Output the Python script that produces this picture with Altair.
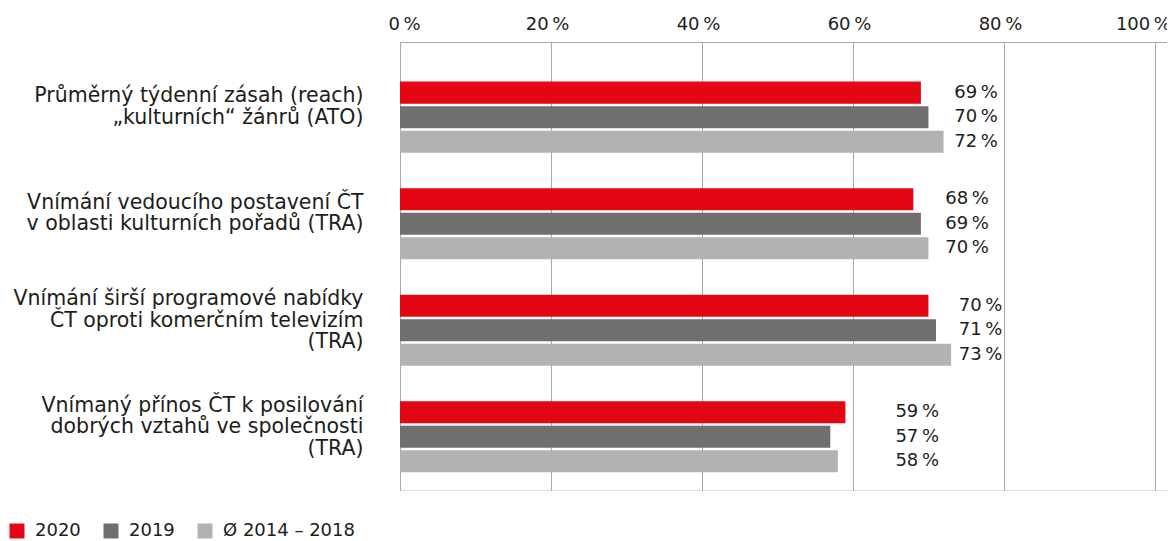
import altair as alt
import pandas as pd

categories = [
    "Průměrný týdenní zásah (reach)|„kulturních“ žánrů (ATO)",
    "Vnímání vedoucího postavení ČT|v oblasti kulturních pořadů (TRA)",
    "Vnímání širší programové nabídky|ČT oproti komerčním televizím|(TRA)",
    "Vnímaný přínos ČT k posilování|dobrých vztahů ve společnosti|(TRA)",
]
series = ["2020", "2019", "Ø 2014 – 2018"]
v2020 = [69, 68, 70, 59]
v2019 = [70, 69, 71, 57]
vavg = [72, 70, 73, 58]
colors = ["#E30613", "#6F6F6F", "#B2B2B2"]
ticks = [0, 20, 40, 60, 80, 100]

rows = []
for i, c in enumerate(categories):
    for s, vals in zip(series, [v2020, v2019, vavg]):
        rows.append({"cat": c, "series": s, "value": vals[i]})
df = pd.DataFrame(rows)

FONT = "DejaVu Sans"
FS = 18
TXT = "#1d1d1b"

xscale = alt.Scale(domain=[0, 101.6], nice=False, zero=True)
yscale = alt.Scale(paddingInner=0, paddingOuter=0.103, align=1)
yoff_scale = alt.Scale(paddingInner=0.1, paddingOuter=0.72, domain=series)

base = alt.Chart(df)

bars = base.mark_bar().encode(
    x=alt.X("value:Q", scale=xscale,
            axis=alt.Axis(orient="top", values=ticks, title=None,
                          labelExpr="datum.value + '\u2009%'",
                          labelFlush=False,
                          labelOffset={"condition": [
                              {"test": "datum.value == 0", "value": 4},
                              {"test": "datum.value == 100", "value": -12}],
                              "value": -4},
                          labelFontSize=FS, labelColor=TXT, labelFont=FONT,
                          labelPadding=9, ticks=False, grid=True,
                          gridColor="#A8A8A8", gridWidth=1,
                          domainColor="#A8A8A8", domainWidth=1)),
    y=alt.Y("cat:N", sort=categories, scale=yscale,
            axis=alt.Axis(title=None, ticks=False, domain=False,
                          labelExpr="split(datum.label, '|')",
                          labelFontSize=20.5, labelColor=TXT, labelFont=FONT,
                          labelLineHeight=21.5, labelPadding=37,
                          labelBaseline="top",
                          labelOffset={"condition": {
                              "test": "length(split(datum.value, '|')) > 2",
                              "value": -41}, "value": -31},
                          labelLimit=400)),
    yOffset=alt.YOffset("series:N", sort=series, scale=yoff_scale),
    color=alt.Color("series:N", sort=series,
                    scale=alt.Scale(domain=series, range=colors),
                    legend=alt.Legend(title=None, orient="none",
                                      legendX=-392, legendY=480,
                                      direction="horizontal",
                                      symbolType="square", symbolSize=225,
                                      symbolStrokeWidth=0, symbolOpacity=1,
                                      labelFontSize=FS, labelFont=FONT,
                                      labelColor=TXT, labelOffset=9,
                                      columnPadding=21)),
)

labels = base.transform_joinaggregate(
    gmax="max(value)", groupby=["cat"]
).transform_calculate(
    lx="datum.gmax * 0.6 + 36",
    txt="datum.value + '\u2009%'",
).mark_text(align="right", baseline="middle", fontSize=FS, font=FONT,
            color=TXT).encode(
    x=alt.X("lx:Q", scale=xscale),
    y=alt.Y("cat:N", sort=categories, scale=yscale),
    yOffset=alt.YOffset("series:N", sort=series, scale=yoff_scale),
    text="txt:N",
)

chart = alt.layer(bars, labels).properties(
    width=767, height=448,
    autosize=alt.AutoSizeParams(type="none"),
    padding={"left": 392, "top": 34, "right": 0, "bottom": 50},
).configure_view(stroke=None).configure(background="white")

chart.save("out.html", embed_options={"renderer": "svg", "actions": False})
